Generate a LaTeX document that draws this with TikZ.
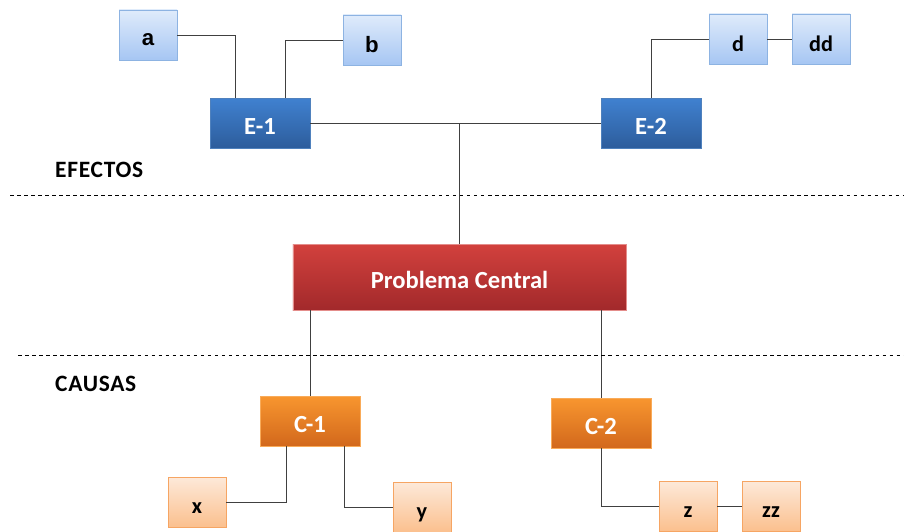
\documentclass[tikz,border=0pt]{standalone}
\usepackage{fontspec}
\setmainfont{Carlito}
\newfontfamily\arialbold{Liberation Sans}
\newfontfamily\seccion[LetterSpace=3]{Carlito}
\usetikzlibrary{shadows}
\definecolor{efborder}{HTML}{8DB3E2}
\definecolor{eftop}{HTML}{DFEBFB}
\definecolor{efbot}{HTML}{A6C6F3}
\definecolor{etop}{HTML}{4081D0}
\definecolor{ebot}{HTML}{2D5D9C}
\definecolor{eborder}{HTML}{4F81BD}
\definecolor{pctop}{HTML}{D2413D}
\definecolor{pcbot}{HTML}{A2292B}
\definecolor{ctop}{HTML}{F8962F}
\definecolor{cbot}{HTML}{D2681C}
\definecolor{catop}{HTML}{FDE9D9}
\definecolor{cabot}{HTML}{FBC08E}
\definecolor{caborder}{HTML}{F6A563}
\tikzset{
  efecto/.style={draw=eborder, top color=etop, bottom color=ebot,
    text=white, font=\fontsize{21}{24}\selectfont\bfseries, minimum width=3cm, minimum height=1.5cm, inner sep=0pt,
    text height=0.66cm, text depth=0cm,
    drop shadow={opacity=0.25,shadow xshift=1pt,shadow yshift=-1pt}},
  subefecto/.style={draw=efborder, top color=eftop, bottom color=efbot,
    font=\fontsize{19}{20}\selectfont\bfseries, minimum width=1.74cm, minimum height=1.5cm, inner sep=0pt,
    text height=0.75cm, text depth=0cm,
    drop shadow={opacity=0.2,shadow xshift=1pt,shadow yshift=-1pt}},
  causa/.style={draw=ctop!80!white, top color=ctop, bottom color=cbot,
    text=white, font=\fontsize{21}{24}\selectfont\bfseries, minimum width=3cm, minimum height=1.5cm, inner sep=0pt,
    text height=0.66cm, text depth=0cm,
    drop shadow={opacity=0.25,shadow xshift=1pt,shadow yshift=-1pt}},
  subcausa/.style={draw=caborder, top color=catop, bottom color=cabot,
    font=\fontsize{19}{20}\selectfont\bfseries, minimum width=1.74cm, minimum height=1.5cm, inner sep=0pt,
    text height=0.7cm, text depth=0cm,
    drop shadow={opacity=0.2,shadow xshift=1pt,shadow yshift=-1pt}},
  central/.style={draw=pctop!60!white, top color=pctop, bottom color=pcbot,
    text=white, font=\fontsize{21}{24}\selectfont\bfseries, minimum width=9.99cm, minimum height=1.98cm, inner sep=0pt,
    text height=0.66cm, text depth=0cm,
    drop shadow={opacity=0.25,shadow xshift=1pt,shadow yshift=-1pt}},
  etiqueta/.style={font=\seccion\fontsize{20}{22}\selectfont\bfseries, anchor=west, inner sep=0pt},
  conector/.style={draw=black!75, line width=0.8pt}
}
\begin{document}
\begin{tikzpicture}[x=0.03cm,y=-0.03cm]
\useasboundingbox (0,0) rectangle (904,531);
% efectos
\path
(148,35) node[subefecto, text height=0.65cm](a){\arialbold a}
(372,40) node[subefecto](b){\arialbold b}
(260,123) node[efecto](e1){E-1}
(651,123) node[efecto](e2){E-2}
(738,39) node[subefecto](d){d}
(821,39) node[subefecto](dd){dd};
% problema
\path (459.5,277) node[central](pc){Problema Central};
% causas
\path
(310,421) node[causa](c1){C-1}
(601,423) node[causa](c2){C-2}
(197,502) node[subcausa](x){x}
(422,507) node[subcausa](y){y}
(688,506) node[subcausa](z){z}
(771,506) node[subcausa](zz){zz};

\path[conector] (a.east) -| ([xshift=-0.75cm]e1.north);
\path[conector] (b.west) -| ([xshift=0.75cm]e1.north);
\path[conector] (e1.east) -- (e2.west);
\path[conector] (d.west) -| (e2.north);
\path[conector] (d.east) -- (dd.west);
\path[conector] (pc.north) -- (pc.north |- e1.east);
\path[conector] (pc.south -| c1.north) -- (c1.north);
\path[conector] (pc.south -| c2.north) -- (c2.north);
\path[conector] ([xshift=-0.72cm]c1.south) |- (x.east);
\path[conector] ([xshift=1.02cm]c1.south) |- (y.west);
\path[conector] (c2.south) |- (z.west);
\path[conector] (z.east) -- (zz.west);

% separadores
\path (55,170) node[etiqueta](ef){EFECTOS};
\path (55,384) node[etiqueta](ca){CAUSAS};
\coordinate (s1) at (10,195);
\coordinate (s2) at (904,195);
\coordinate (s3) at (18,355);
\coordinate (s4) at (904,355);
\path[draw, dashed, line width=0.6pt] (s1) -- (s2);
\path[draw, dashed, line width=0.6pt] (s3) -- (s4);
\end{tikzpicture}
\end{document}
